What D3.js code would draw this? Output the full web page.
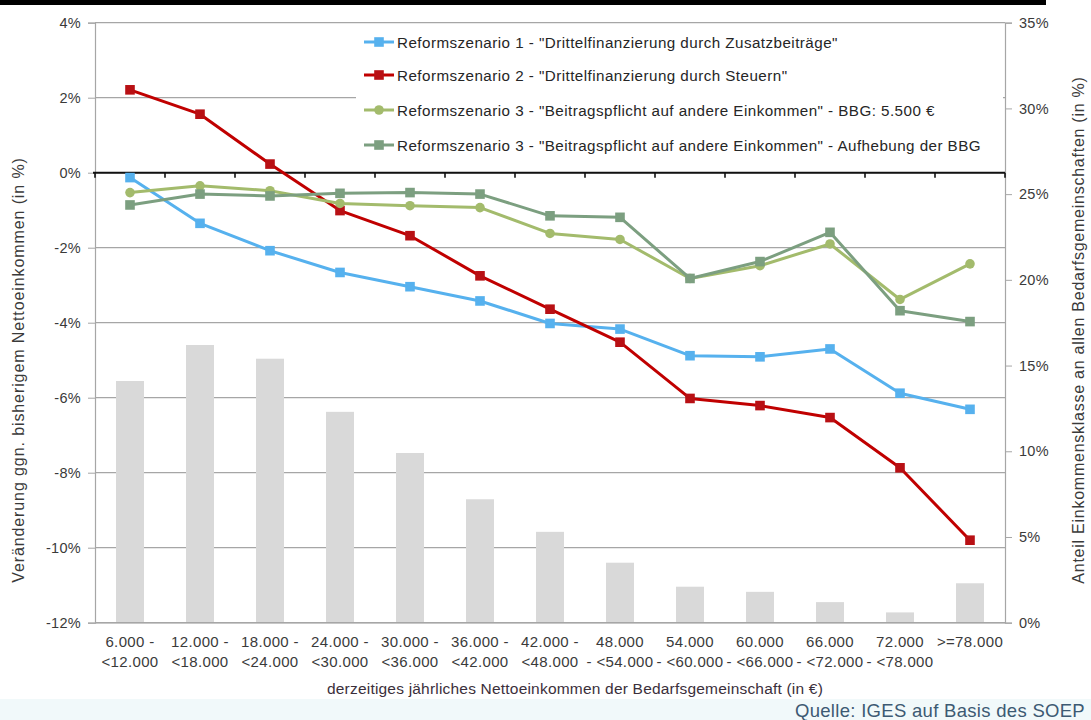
<!DOCTYPE html>
<html>
<head>
<meta charset="utf-8">
<script src="https://cdn.jsdelivr.net/npm/d3@7/dist/d3.min.js"></script>
<style>
html,body{margin:0;padding:0;background:#fff;}
svg{display:block;font-family:"Liberation Sans",Arial,sans-serif;}
</style>
</head>
<body>
<svg id="chart" width="1091" height="720"></svg>
<script>
// ---------- DATA ----------
const categories = ["6.000 - <12.000","12.000 - <18.000","18.000 - <24.000","24.000 - <30.000","30.000 - <36.000","36.000 - <42.000","42.000 - <48.000","48.000 - <54.000","54.000 - <60.000","60.000 - <66.000","66.000 - <72.000","72.000 - <78.000",">=78.000"];
const categoryLines = [["6.000 -","<12.000"],["12.000 -","<18.000"],["18.000 -","<24.000"],["24.000 -","<30.000"],["30.000 -","<36.000"],["36.000 -","<42.000"],["42.000 -","<48.000"],["48.000","- <54.000"],["54.000","- <60.000"],["60.000","- <66.000"],["66.000","- <72.000"],["72.000","- <78.000"],[">=78.000"]];
const shareBars = [14.1, 16.2, 15.4, 12.3, 9.9, 7.2, 5.3, 3.5, 2.1, 1.8, 1.2, 0.6, 2.3];
const scenario1 = [-0.13, -1.35, -2.08, -2.66, -3.04, -3.42, -4.02, -4.17, -4.88, -4.91, -4.70, -5.88, -6.31];
const scenario2 = [2.21, 1.56, 0.23, -1.01, -1.68, -2.75, -3.64, -4.52, -6.02, -6.21, -6.53, -7.87, -9.80];
const scenario3a = [-0.53, -0.35, -0.48, -0.82, -0.88, -0.93, -1.62, -1.78, -2.82, -2.48, -1.90, -3.38, -2.43];
const scenario3b = [-0.86, -0.57, -0.62, -0.55, -0.53, -0.57, -1.15, -1.19, -2.82, -2.37, -1.59, -3.68, -3.97];
const seriesNames = [
  'Reformszenario 1 - "Drittelfinanzierung durch Zusatzbeiträge"',
  'Reformszenario 2 - "Drittelfinanzierung durch Steuern"',
  'Reformszenario 3 - "Beitragspflicht auf andere Einkommen" - BBG: 5.500 €',
  'Reformszenario 3 - "Beitragspflicht auf andere Einkommen" - Aufhebung  der BBG'
];
const leftTicks = [-12, -10, -8, -6, -4, -2, 0, 2, 4];
const rightTicks = [0, 5, 10, 15, 20, 25, 30, 35];
const leftAxisTitle = "Veränderung ggn. bisherigem Nettoeinkommen (in %)";
const rightAxisTitle = "Anteil Einkommensklasse an allen Bedarfsgemeinschaften (in %)";
const xAxisTitle = "derzeitiges jährliches Nettoeinkommen der Bedarfsgemeinschaft (in €)";
const sourceText = "Quelle: IGES auf Basis des SOEP";

// ---------- LAYOUT ----------
const svg = d3.select("#chart");
const L = 95, R = 1005, T = 22.7, B = 622.7;
const textCol = "#3a3a3a";

const x = d3.scaleBand().domain(categories).range([L, R]).paddingInner(0).paddingOuter(0);
const cx = c => x(c) + x.bandwidth() / 2;
const yL = d3.scaleLinear().domain([-12, 4]).range([B, T]);
const yR = d3.scaleLinear().domain([0, 35]).range([B, T]);
const pct = d => (d < 0 ? "-" + Math.abs(d) : d) + "%";

// top black strip & bottom pale strip
svg.append("rect").attr("x", 0).attr("y", 0).attr("width", 1046).attr("height", 5).attr("fill", "#000");
svg.append("rect").attr("x", 0).attr("y", 699).attr("width", 1091).attr("height", 21).attr("fill", "#f1f9fa");

// gridlines (left axis)
svg.append("g").selectAll("line").data(leftTicks).join("line")
  .attr("x1", L).attr("x2", R).attr("y1", d => yL(d)).attr("y2", d => yL(d))
  .attr("stroke", "#a6a6a6").attr("stroke-width", 1.2);

// bars (right axis)
const barW = x.bandwidth() * 0.4;
svg.append("g").selectAll("rect").data(shareBars).join("rect")
  .attr("x", (d, i) => cx(categories[i]) - barW / 2)
  .attr("y", d => yR(d))
  .attr("width", barW)
  .attr("height", d => B - yR(d))
  .attr("fill", "#d9d9d9");

// left axis
const gL = svg.append("g").attr("transform", `translate(${L},0)`)
  .call(d3.axisLeft(yL).tickValues(leftTicks).tickFormat(pct).tickSize(7).tickPadding(7));
gL.select(".domain").attr("stroke", "#a6a6a6").attr("stroke-width", 1.2);
gL.selectAll(".tick line").attr("stroke", "#a6a6a6");
gL.selectAll("text").attr("fill", textCol).style("font-size", "14.5px").style("letter-spacing", "0.3px").style("font-family", '"Liberation Sans",Arial,sans-serif');

// right axis
const gR = svg.append("g").attr("transform", `translate(${R},0)`)
  .call(d3.axisRight(yR).tickValues(rightTicks).tickFormat(d => d + "%").tickSize(7).tickPadding(7));
gR.select(".domain").attr("stroke", "#a6a6a6").attr("stroke-width", 1.2);
gR.selectAll(".tick line").attr("stroke", "#a6a6a6");
gR.selectAll("text").attr("fill", textCol).style("font-size", "14.5px").style("letter-spacing", "0.3px").style("font-family", '"Liberation Sans",Arial,sans-serif');

// bottom axis line
svg.append("line").attr("x1", L).attr("x2", R).attr("y1", B).attr("y2", B).attr("stroke", "#a6a6a6").attr("stroke-width", 1.4);

// zero line (category axis crossing) with ticks at band boundaries
const gZ = svg.append("g").attr("transform", `translate(0,${yL(0)})`)
  .call(d3.axisBottom(x).tickValues([]).tickSizeOuter(0));
gZ.select(".domain").remove();
gZ.append("line").attr("x1", L - 2).attr("x2", R).attr("y1", 0).attr("y2", 0).attr("stroke", "#111").attr("stroke-width", 2);
const bounds = categories.map(c => x(c)).concat([R]);
gZ.selectAll("line.tk").data(bounds).join("line").attr("class", "tk")
  .attr("x1", d => d).attr("x2", d => d).attr("y1", 0).attr("y2", 5)
  .attr("stroke", "#111").attr("stroke-width", 1.6);

// x tick labels
const xl = svg.append("g").selectAll("text").data(categoryLines).join("text")
  .attr("x", (d, i) => cx(categories[i]))
  .attr("y", 647)
  .attr("text-anchor", "middle")
  .attr("fill", textCol)
  .style("font-size", "15px")
  .style("letter-spacing", "0.35px");
xl.selectAll("tspan").data(d => d).join("tspan")
  .attr("x", function () { return d3.select(this.parentNode).attr("x"); })
  .attr("dy", (d, j) => j === 0 ? 0 : 20)
  .text(d => d);

// axis titles
svg.append("text").attr("transform", "translate(24,370) rotate(-90)")
  .attr("text-anchor", "middle").attr("fill", textCol).style("font-size", "16px").style("letter-spacing", "0.9px").text(leftAxisTitle);
svg.append("text").attr("transform", "translate(1084,330) rotate(-90)")
  .attr("text-anchor", "middle").attr("fill", textCol).style("font-size", "16px").style("letter-spacing", "0.75px").text(rightAxisTitle);
svg.append("text").attr("x", 575).attr("y", 694).attr("text-anchor", "middle")
  .attr("fill", "#3b2f3b").style("font-size", "15.5px").style("letter-spacing", "0.2px").text(xAxisTitle);
svg.append("text").attr("x", 1085).attr("y", 717).attr("text-anchor", "end")
  .attr("fill", "#3d5a73").style("font-size", "18.5px").style("letter-spacing", "0.3px").text(sourceText);

// legend background
svg.append("rect").attr("x", 356).attr("y", 25).attr("width", 647).attr("height", 136).attr("fill", "#fff");

// series
const series = [
  {vals: scenario1, color: "#56b1ee", mcolor: "#56b1ee", shape: "square"},
  {vals: scenario2, color: "#c00000", mcolor: "#b81014", shape: "square"},
  {vals: scenario3a, color: "#a3bb6c", mcolor: "#a3bb6c", shape: "circle"},
  {vals: scenario3b, color: "#7c9f80", mcolor: "#7c9f80", shape: "square"}
];
const line = d3.line().x((d, i) => cx(categories[i])).y(d => yL(d));
function marker(g, shape, color, px, py) {
  if (shape === "circle") {
    g.append("circle").attr("cx", px).attr("cy", py).attr("r", 4.8).attr("fill", color);
  } else {
    g.append("rect").attr("x", px - 4.8).attr("y", py - 4.8).attr("width", 9.6).attr("height", 9.6).attr("fill", color);
  }
}
series.forEach(s => {
  const g = svg.append("g");
  g.append("path").datum(s.vals).attr("d", line).attr("fill", "none")
    .attr("stroke", s.color).attr("stroke-width", 3).attr("stroke-linejoin", "round");
  s.vals.forEach((v, i) => marker(g, s.shape, s.mcolor, cx(categories[i]), yL(v)));
});

// legend
const legY = [42, 75, 110, 145];
series.forEach((s, i) => {
  const g = svg.append("g");
  g.append("line").attr("x1", 364).attr("x2", 394).attr("y1", legY[i]).attr("y2", legY[i])
    .attr("stroke", s.color).attr("stroke-width", 3);
  marker(g, s.shape, s.mcolor, 379, legY[i]);
  g.append("text").attr("x", 397).attr("y", legY[i] + 5.5).attr("fill", "#262626")
    .style("font-size", "15.2px").style("letter-spacing", "0.45px").text(seriesNames[i]);
});
</script>
</body>
</html>
